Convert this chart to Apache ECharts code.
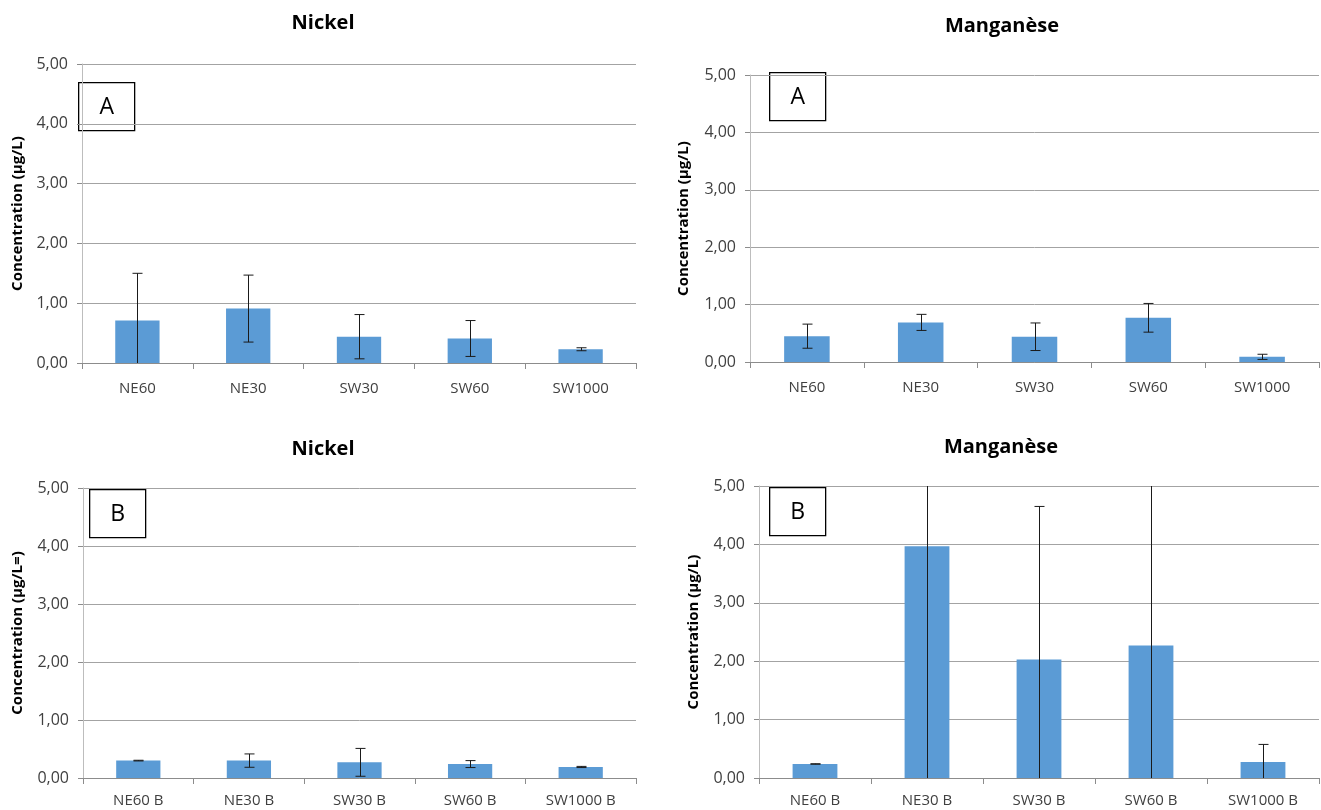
<!DOCTYPE html>
<html>
<head>
<meta charset="utf-8">
<script src="https://cdn.jsdelivr.net/npm/echarts@6/dist/echarts.min.js"></script>
<style>
  html, body { margin: 0; padding: 0; background: #fff; }
  #main { width: 1321px; height: 810px; }
</style>
</head>
<body>
<div id="main"></div>
<script>
// data
var categoriesA = ['NE60', 'NE30', 'SW30', 'SW60', 'SW1000']
var categoriesB = ['NE60 B', 'NE30 B', 'SW30 B', 'SW60 B', 'SW1000 B']
var yTicks = [0, 1, 2, 3, 4, 5]

var nickelA = [0.71, 0.91, 0.44, 0.41, 0.23]
var nickelAErr = [0.79, 0.56, 0.37, 0.30, 0.025]
var manganeseA = [0.45, 0.69, 0.44, 0.77, 0.09]
var manganeseAErr = [0.21, 0.14, 0.24, 0.25, 0.045]
var nickelB = [0.30, 0.30, 0.27, 0.24, 0.19]
var nickelBErr = [0.006, 0.115, 0.24, 0.06, 0.01]
var manganeseB = [0.24, 3.97, 2.03, 2.27, 0.275]
var manganeseBErr = [0.004, 4.1, 2.62, 2.9, 0.30]

var FONT = '"Open Sans", "Liberation Sans", sans-serif'
var GRID_COLOR = '#a3a3a3'
var BAR_COLOR = '#5b9bd5'
var yMax = yTicks[yTicks.length - 1]

var chart = echarts.init(document.getElementById('main'))

function fmt(v){
  return v.toFixed(2).replace('.', ',')
}

function xAxis(idx, cats, margin){
  return {
    type: 'category', gridIndex: idx, data: cats,
    axisLine: { lineStyle: { color: '#8c8c8c', width: 1 } },
    axisTick: { show: true, length: 6, alignWithLabel: false, lineStyle: { color: '#8c8c8c' } },
    axisLabel: { color: '#404040', fontFamily: FONT, fontSize: 15, margin: margin }
  }
}

function yAxis(idx, name, gap){
  return {
    type: 'value', gridIndex: idx, min: 0, max: yMax, interval: 1,
    name: name, nameLocation: 'middle', nameRotate: 90, nameGap: gap,
    nameTextStyle: { fontFamily: FONT, fontWeight: 'bold', fontSize: 15, color: '#000' },
    axisLine: { show: true, lineStyle: { color: '#bdbdbd' } },
    axisTick: { show: true, length: 5, lineStyle: { color: '#8c8c8c' } },
    splitLine: { lineStyle: { color: GRID_COLOR, width: 1 } },
    axisLabel: { color: '#404040', fontFamily: FONT, fontSize: 16, margin: 14, formatter: fmt }
  }
}

function barSeries(idx, vals){
  return {
    type: 'bar', xAxisIndex: idx, yAxisIndex: idx, data: vals,
    barWidth: '40%', itemStyle: { color: BAR_COLOR }
  }
}

// error bars, clipped to the axis range like in the original
function errSeries(idx, vals, errs){
  return {
    type: 'custom', xAxisIndex: idx, yAxisIndex: idx, z: 10,
    data: vals.map(function(v, i){ return [i, v, errs[i]] }),
    renderItem: function(params, api){
      var i = api.value(0), v = api.value(1), e = api.value(2)
      var lo = Math.max(0, v - e), hi = Math.min(yMax, v + e)
      var pLo = api.coord([i, lo]), pHi = api.coord([i, hi])
      var x = Math.round(pLo[0]) + 0.5
      var st = { stroke: '#1a1a1a', lineWidth: 1 }
      var kids = [{ type: 'line', shape: { x1: x, y1: pLo[1], x2: x, y2: pHi[1] }, style: st }]
      if (v + e <= yMax) kids.push({ type: 'line', shape: { x1: x - 5, y1: pHi[1], x2: x + 5, y2: pHi[1] }, style: st })
      if (v - e >= 0) kids.push({ type: 'line', shape: { x1: x - 5, y1: pLo[1], x2: x + 5, y2: pLo[1] }, style: st })
      return { type: 'group', children: kids }
    }
  }
}

function letterBox(x, y, letter){
  return {
    type: 'group', left: x, top: y, z: 20,
    children: [
      { type: 'rect', shape: { x: 0, y: 0, width: 56, height: 48 }, style: { fill: '#fff', stroke: '#000', lineWidth: 1.3 } },
      { type: 'text', x: 28, y: 25, style: { text: letter, font: '23px ' + FONT, fill: '#000', align: 'center', verticalAlign: 'middle' } }
    ]
  }
}

function title(text, x, y){
  return {
    text: text, left: x, top: y, textAlign: 'center',
    textStyle: { fontFamily: FONT, fontWeight: 'bold', fontSize: 20, color: '#000' }
  }
}

var option = {
  animation: false,
  backgroundColor: '#fff',
  title: [
    title('Nickel', 318, 8),
    title('Manganèse', 997, 11),
    title('Nickel', 318, 434),
    title('Manganèse', 996, 432)
  ],
  grid: [
    { left: 82, top: 64, width: 554, height: 299 },
    { left: 750, top: 75, width: 569, height: 287 },
    { left: 83, top: 488, width: 553, height: 290 },
    { left: 759, top: 486, width: 560, height: 292 }
  ],
  xAxis: [
    xAxis(0, categoriesA, 18), xAxis(1, categoriesA, 18),
    xAxis(2, categoriesB, 15), xAxis(3, categoriesB, 15)
  ],
  yAxis: [
    yAxis(0, 'Concentration (µg/L)', 57),
    yAxis(1, 'Concentration (µg/L)', 59),
    yAxis(2, 'Concentration (µg/L=)', 58),
    yAxis(3, 'Concentration (µg/L)', 58)
  ],
  series: [
    barSeries(0, nickelA), errSeries(0, nickelA, nickelAErr),
    barSeries(1, manganeseA), errSeries(1, manganeseA, manganeseAErr),
    barSeries(2, nickelB), errSeries(2, nickelB, nickelBErr),
    barSeries(3, manganeseB), errSeries(3, manganeseB, manganeseBErr)
  ],
  graphic: [
    letterBox(78, 82, 'A'),
    letterBox(769, 72, 'A'),
    letterBox(89, 489, 'B'),
    letterBox(769, 487, 'B')
  ]
}

chart.setOption(option)
</script>
</body>
</html>
